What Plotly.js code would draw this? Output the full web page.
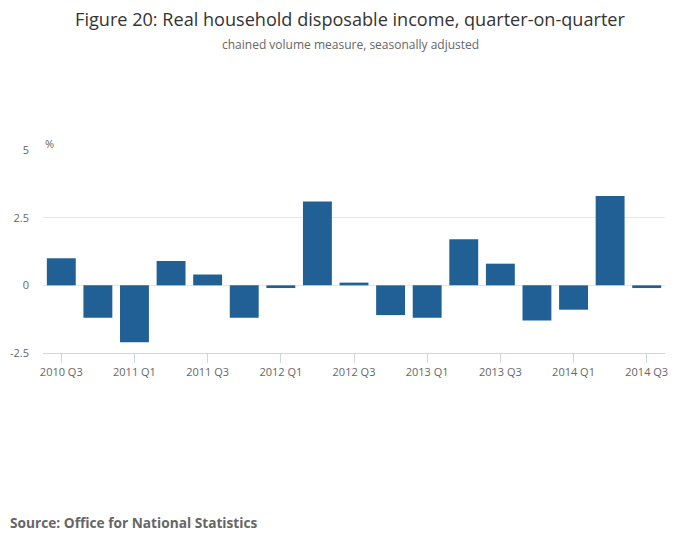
<!DOCTYPE html>
<html>
<head>
<meta charset="utf-8">
<script src="https://cdn.plot.ly/plotly-3.0.1.min.js"></script>
<style>
  html, body { margin: 0; padding: 0; background: #fff; }
  #chart { width: 700px; height: 549px; }
</style>
</head>
<body>
<div id="chart"></div>
<script>
// quarters and q-on-q growth, %
var quarters = ['2010 Q3', '2010 Q4', '2011 Q1', '2011 Q2', '2011 Q3', '2011 Q4',
                '2012 Q1', '2012 Q2', '2012 Q3', '2012 Q4', '2013 Q1', '2013 Q2',
                '2013 Q3', '2013 Q4', '2014 Q1', '2014 Q2', '2014 Q3'];
var growth = [1.0, -1.2, -2.1, 0.9, 0.4, -1.2,
              -0.1, 3.1, 0.1, -1.1, -1.2, 1.7,
              0.8, -1.3, -0.9, 3.3, -0.1];
var shownTicks = ['2010 Q3', '2011 Q1', '2011 Q3', '2012 Q1', '2012 Q3',
                  '2013 Q1', '2013 Q3', '2014 Q1', '2014 Q3'];
var yTicks = [-2.5, 0, 2.5, 5];

var trace = {
    x: quarters,
    y: growth,
    type: 'bar',
    marker: { color: '#206095' },
    hoverinfo: 'x+y'
};

var layout = {
    width: 700,
    height: 549,
    margin: { l: 43, r: 35, t: 150, b: 196 },
    paper_bgcolor: '#fff',
    plot_bgcolor: '#fff',
    font: { family: 'Open Sans, sans-serif', color: '#666', size: 11 },
    bargap: 0.21,
    showlegend: false,
    title: {
        text: 'Figure 20: Real household disposable income, quarter-on-quarter',
        font: { size: 18.1, color: '#333' },
        x: 0.5, xanchor: 'center',
        y: 0.965, yanchor: 'middle'
    },
    xaxis: {
        type: 'category',
        tickmode: 'array',
        tickvals: shownTicks,
        ticktext: shownTicks,
        ticks: 'outside',
        ticklen: 9,
        tickcolor: '#ccd6eb',
        showline: true,
        linecolor: '#ccd6eb',
        linewidth: 1,
        showgrid: false,
        tickfont: { size: 11, color: '#666' },
        fixedrange: true
    },
    yaxis: {
        range: [-2.5, 5],
        tickmode: 'array',
        tickvals: yTicks,
        ticktext: ['-2.5', '0', '2.5', '5'],
        showgrid: true,
        gridcolor: '#e6e6e6',
        zeroline: false,
        showline: false,
        ticks: '',
        ticklabelstandoff: 13,
        tickfont: { size: 11, color: '#666' },
        fixedrange: true
    },
    annotations: [
        {
            text: 'chained volume measure, seasonally adjusted',
            xref: 'paper', yref: 'paper',
            x: 0.5, xanchor: 'center',
            xshift: -4,
            y: 1, yanchor: 'middle',
            yshift: 106,
            showarrow: false,
            font: { size: 12, color: '#666' }
        },
        {
            text: '%',
            xref: 'paper', yref: 'paper',
            x: 0, xanchor: 'left',
            y: 1, yanchor: 'middle',
            yshift: 7,
            showarrow: false,
            font: { size: 11, color: '#666' }
        },
        {
            text: '<b>Source: Office for National Statistics</b>',
            xref: 'paper', yref: 'paper',
            x: 0, xanchor: 'left',
            y: 0, yanchor: 'middle',
            xshift: -35,
            yshift: -169,
            showarrow: false,
            font: { size: 13.7, color: '#666' }
        }
    ]
};

Plotly.newPlot('chart', [trace], layout, { displayModeBar: false, staticPlot: true });
</script>
</body>
</html>
